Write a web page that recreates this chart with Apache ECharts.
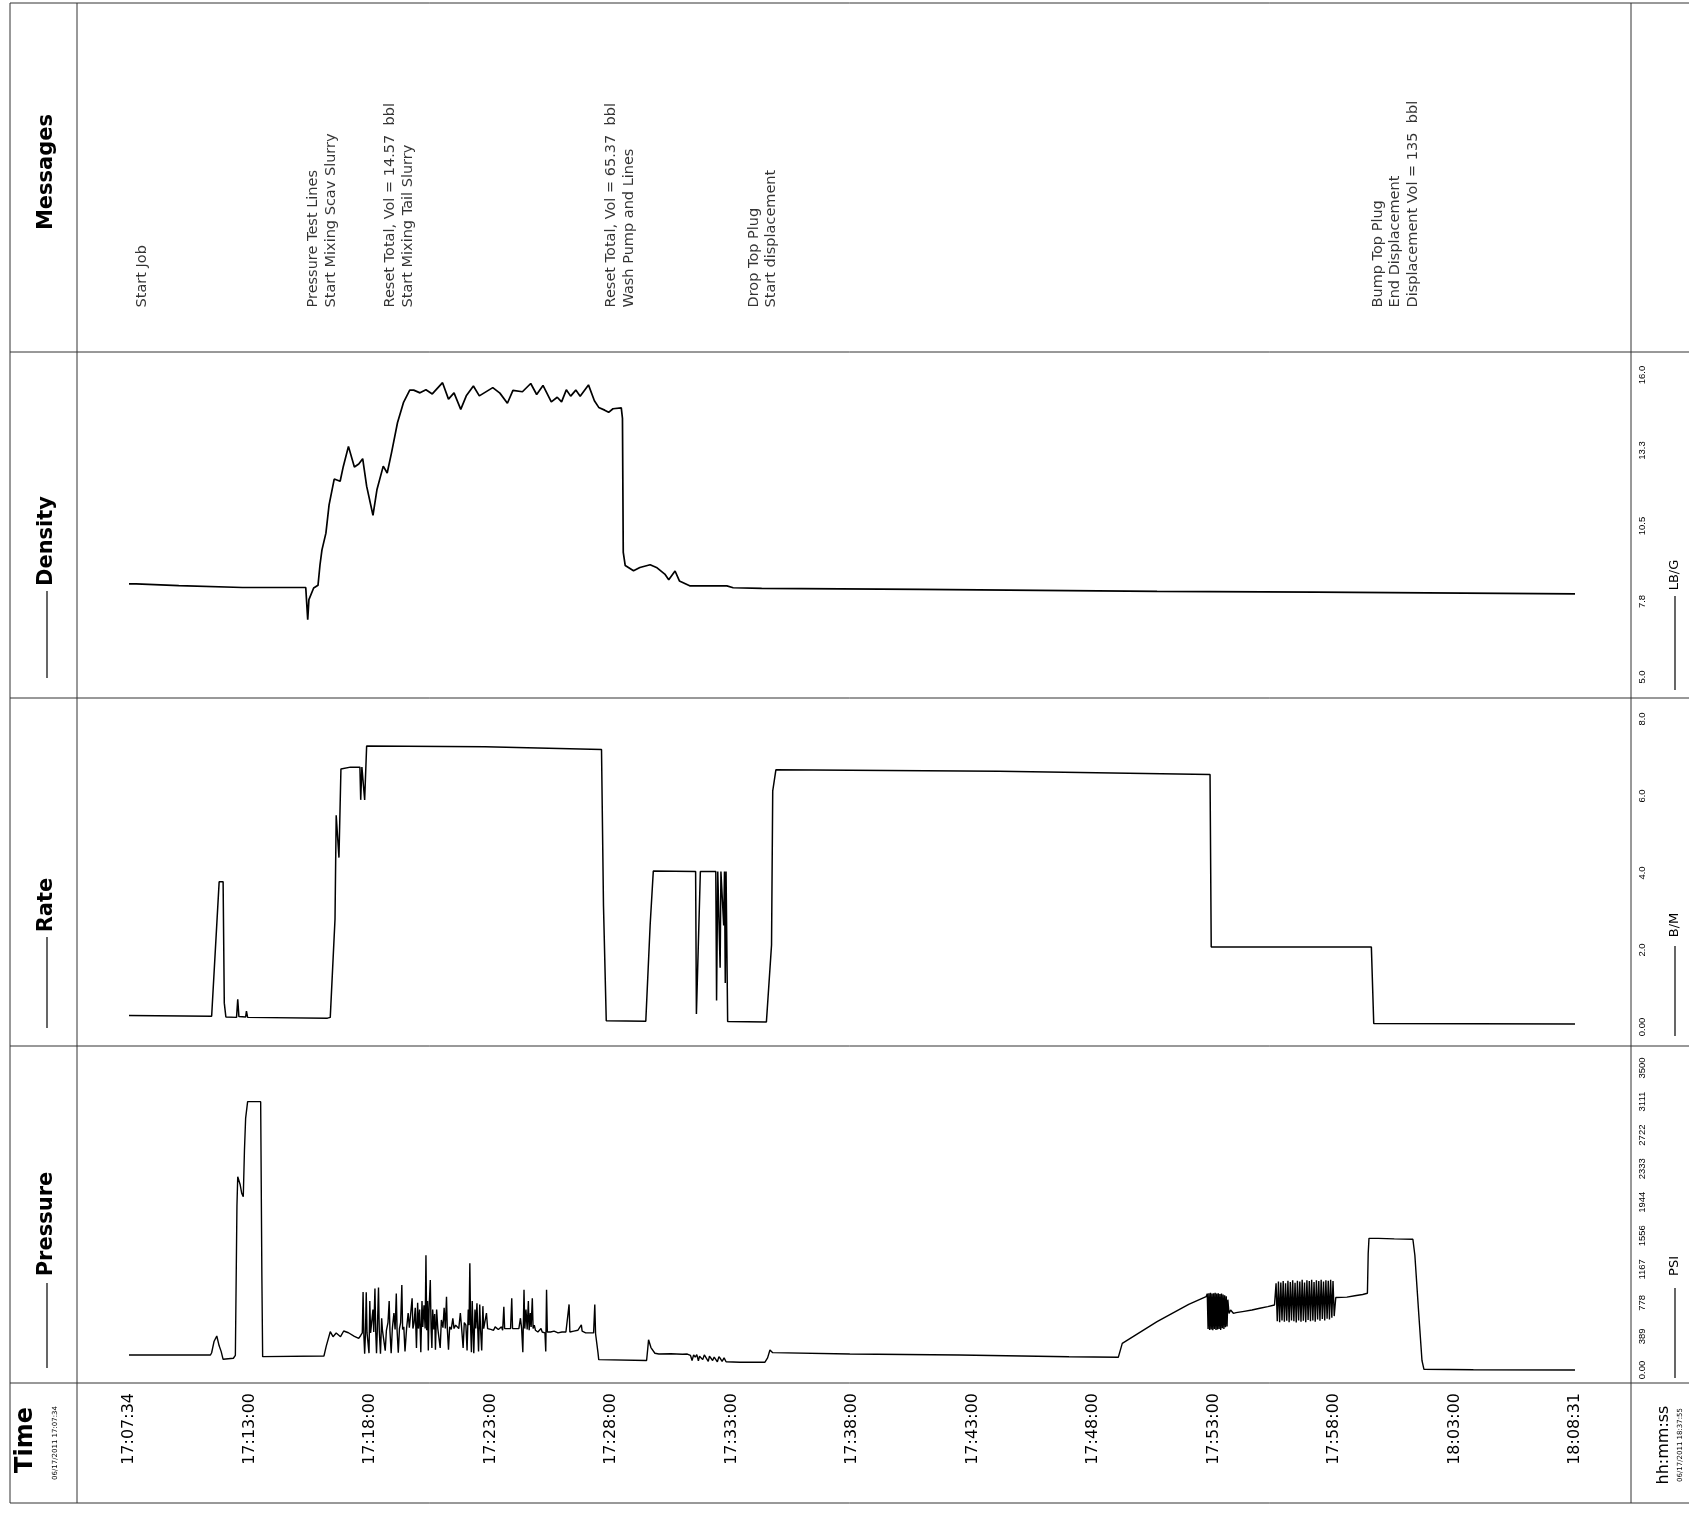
<!DOCTYPE html>
<html><head><meta charset="utf-8">
<script src="https://cdn.jsdelivr.net/npm/echarts@6/dist/echarts.min.js"></script>
<style>html,body{margin:0;padding:0;background:#fff}#c{width:1689px;height:1516px}</style>
</head><body><div id="c"></div>
<script>
// ---------------- data ----------------
const timeLabels = ['17:07:34','17:13:00','17:18:00','17:23:00','17:28:00','17:33:00','17:38:00','17:43:00','17:48:00','17:53:00','17:58:00','18:03:00','18:08:31'];
const spanSeconds = 3657; // seconds drawn between first and last time label
const pressureTickLabels = ['0.00','389','778','1167','1556','1944','2333','2722','3111','3500'];
const pressureTickValues = [0,388.9,777.8,1166.7,1555.6,1944.4,2333.3,2722.2,3111.1,3500];
const rateTickLabels = ['0.00','2.0','4.0','6.0','8.0'];
const rateTickValues = [0,2,4,6,8];
const densityTickLabels = ['5.0','7.8','10.5','13.3','16.0'];
const densityTickValues = [5,7.75,10.5,13.25,16];

// [seconds since 17:07:34, value]
const pressure = [
[0,174],[206,174],[209,200],[215,330],[222,394],[228,280],[233,216],[238,124],[264,136],[269,170],[273,1900],[275,2240],[277,2260],[281,2150],[285,2050],[289,2009],[292,2550],[295,2920],[300,3110],[333,3110],[336,1100],[338,155],[342,162],[493,162],[499,280],[509,444],[516,386],[524,429],[535,386],[543,452],[555,432],[570,390],[581,367],
[586,400],[590,430],[592,905],[594,400],[596,190],[598,420],[600,900],[602,430],[605,440],[607,195],[609,800],[611,430],[614,450],[617,700],[619,440],[622,945],[624,440],[626,195],[628,460],[631,955],[633,450],[636,190],[639,600],[641,460],[645,450],[648,225],[651,460],[655,550],[658,800],[660,450],[663,195],[666,480],[670,660],[673,470],[676,885],[678,460],[681,200],[684,480],[687,550],[690,985],[692,470],[695,500],[698,215],[702,480],[706,660],[709,490],[713,500],[716,830],[718,480],[721,550],[724,720],[727,255],[730,780],[732,480],[735,700],[738,205],[741,800],[743,500],[746,750],[749,480],[751,1330],[753,460],[755,800],[757,225],[759,720],[762,1043],[764,480],[766,255],[768,700],[771,470],[773,650],[775,235],[778,700],[781,480],[784,500],[787,255],[790,580],[794,490],[797,720],[800,480],[803,850],[805,480],[808,235],[811,500],[815,470],[819,600],[822,480],[826,520],[830,500],[834,480],[838,660],[841,500],[845,255],[848,550],[852,520],[855,225],[858,700],[860,520],[862,1237],[864,500],[866,205],[868,800],[870,480],[872,195],[875,700],[877,480],[880,773],[882,480],[884,215],[887,760],[889,480],[892,225],[895,740],[897,480],[900,480],[904,660],[907,480],[911,500],[915,470],[919,480],[922,460],[926,500],[930,480],[934,470],[938,480],[942,500],[945,460],[948,734],[950,480],[954,470],[958,480],[962,500],[965,480],[968,830],[970,480],[974,470],[978,480],[982,460],[986,480],[990,600],[993,480],[996,205],[999,930],[1001,480],[1004,700],[1007,470],[1010,800],[1012,460],[1015,660],[1017,500],[1020,830],[1022,480],[1025,520],[1028,460],[1031,480],[1034,440],[1038,460],[1042,480],[1045,440],[1049,460],[1052,430],[1054,215],[1056,930],[1058,440],[1062,430],[1066,440],[1070,430],[1075,450],[1080,440],[1085,430],[1090,450],[1095,440],[1100,430],[1105,440],[1110,450],[1113,760],[1115,440],[1120,430],[1125,450],[1130,440],[1135,460],[1140,480],[1144,522],[1146,450],[1150,440],[1155,430],[1160,440],[1165,430],[1170,420],[1175,430],[1178,760],[1180,420],[1183,405],[1186,205],[1188,120],
[1190,110],[1309,110],[1312,250],[1314,350],[1320,260],[1330,194],[1340,185],[1370,188],[1400,182],[1412,185],[1420,170],[1424,110],[1428,175],[1432,150],[1436,178],[1440,105],[1443,160],[1447,180],[1451,120],[1455,175],[1460,165],[1465,100],[1468,160],[1472,178],[1476,110],[1480,150],[1484,170],[1488,95],[1492,155],[1496,130],[1500,100],[1505,140],[1510,95],[1515,85],[1545,89],[1608,89],[1615,140],[1621,232],[1623,251],[1628,201],[1823,185],[2100,174],[2377,154],[2502,147],[2507,160],[2512,309],[2600,560],[2680,760],[2724,850],
[2727,885],[2729,475],[2731,890],[2733,465],[2735,895],[2737,470],[2739,885],[2741,460],[2743,890],[2745,475],[2747,895],[2749,465],[2751,885],[2753,470],[2755,890],[2757,475],[2759,880],[2761,465],[2763,885],[2765,485],[2767,875],[2769,475],[2771,865],[2773,495],[2775,855],[2777,505],[2779,815],[2782,655],[2786,695],[2793,657],[2800,665],[2820,680],[2840,695],[2860,715],[2880,735],[2897,753],
[2901,1005],[2904,565],[2907,1025],[2910,555],[2913,1015],[2916,575],[2919,1030],[2922,560],[2925,1005],[2928,570],[2931,1035],[2934,555],[2937,1020],[2940,575],[2943,1040],[2946,565],[2949,1010],[2952,550],[2955,1035],[2958,575],[2961,1025],[2964,560],[2967,1045],[2970,570],[2973,1015],[2976,555],[2979,1040],[2982,580],[2985,1030],[2988,565],[2991,1045],[2994,575],[2997,1020],[3000,560],[3003,1040],[3006,585],[3009,1030],[3012,570],[3015,1045],[3018,590],[3021,1025],[3024,575],[3027,1040],[3030,595],[3033,1035],[3036,585],[3039,1045],[3042,605],[3045,1030],[3048,625],[3052,840],[3056,831],[3080,845],[3100,860],[3120,875],[3132,889],[3134,1350],[3136,1526],[3160,1525],[3200,1520],[3247,1515],[3252,1330],[3262,640],[3270,110],[3275,8],[3400,3],[3657,0]
];

const rate = [
[0,0.3],[209,0.28],[228,3.77],[238,3.77],[241,0.62],[245,0.26],[272,0.25],[275,0.72],[278,0.27],[295,0.26],[297,0.41],[300,0.25],[502,0.23],[509,0.25],[521,2.8],[524,5.5],[528,5.5],[531,4.4],[536,6.7],[560,6.75],[584,6.75],[586,5.9],[589,6.75],[593,6.75],[596,5.9],[601,7.3],[900,7.28],[1195,7.21],[1200,3.15],[1207,0.16],[1307,0.15],[1318,2.65],[1322,2.65],[1326,4.05],[1433,4.04],[1435,0.34],[1440,0.34],[1445,4.04],[1484,4.04],[1486,0.69],[1489,4.04],[1493,4.04],[1495,1.54],[1497,4.04],[1502,4.04],[1504,2.64],[1506,4.04],[1508,1.14],[1510,4.04],[1514,0.14],[1612,0.13],[1625,2.13],[1628,6.13],[1636,6.68],[2200,6.64],[2734,6.56],[2737,2.08],[3142,2.08],[3148,0.09],[3657,0.08]
];

const density = [
[0,8.39],[18,8.39],[126,8.33],[287,8.26],[447,8.26],[450,8.19],[452,7.09],[455,7.82],[467,8.24],[478,8.34],[483,9.08],[488,9.63],[498,10.24],[506,11.27],[519,12.21],[534,12.13],[542,12.67],[555,13.4],[570,12.65],[581,12.76],[591,12.95],[601,11.95],[617,10.89],[627,11.82],[643,12.68],[653,12.43],[664,13.17],[679,14.26],[694,14.99],[710,15.45],[720,15.45],[736,15.35],[751,15.46],[767,15.31],[793,15.72],[808,15.12],[822,15.35],[839,14.75],[853,15.24],[871,15.6],[886,15.24],[920,15.54],[938,15.34],[957,14.97],[971,15.44],[995,15.39],[1016,15.69],[1031,15.29],[1047,15.62],[1068,15.02],[1083,15.19],[1094,15.02],[1106,15.46],[1117,15.23],[1130,15.45],[1141,15.23],[1162,15.64],[1177,15.06],[1188,14.82],[1203,14.72],[1213,14.64],[1224,14.77],[1245,14.8],[1248,14.42],[1250,9.54],[1255,9.06],[1276,8.87],[1292,8.99],[1318,9.09],[1334,8.99],[1355,8.75],[1365,8.54],[1381,8.86],[1392,8.5],[1418,8.32],[1512,8.32],[1528,8.25],[1600,8.23],[2000,8.19],[2600,8.12],[3000,8.09],[3657,8.03]
];

const messageTimes = [13, 446, 640, 1199, 1560, 3138];
const messageTexts = [
  'Start Job',
  'Pressure Test Lines\nStart Mixing Scav Slurry',
  'Reset Total, Vol = 14.57  bbl\nStart Mixing Tail Slurry',
  'Reset Total, Vol = 65.37  bbl\nWash Pump and Lines',
  'Drop Top Plug\nStart displacement',
  'Bump Top Plug\nEnd Displacement\nDisplacement Vol = 135  bbl'
];

// ---------------- layout ----------------
const W = 1689;
const PLOT_L = 77, PLOT_R = 1631;          // frame of the plot area
const DATA_L = 129, DATA_R = 1575;         // pixel of first / last time label
const pxPerSec = (DATA_R - DATA_L) / spanSeconds;
const XMIN = -(DATA_L - PLOT_L) / pxPerSec;
const XMAX = spanSeconds + (PLOT_R - DATA_R) / pxPerSec;

const panels = {
  density:  {top: 352,  bottom: 698,  v0: 5, y0: 677,  v1: 16,   y1: 375},
  rate:     {top: 698,  bottom: 1046, v0: 0, y0: 1027, v1: 8,    y1: 719},
  pressure: {top: 1046, bottom: 1383, v0: 0, y0: 1370, v1: 3500, y1: 1068}
};
function yRange(p) {
  const k = (p.y0 - p.y1) / (p.v1 - p.v0);
  return {min: p.v0 - (p.bottom - p.y0) / k, max: p.v1 + (p.y1 - p.top) / k};
}
function nearestLabel(vals, labs) {
  return function (v) {
    let bi = 0, bd = Infinity;
    vals.forEach((x, i) => { const d = Math.abs(x - v); if (d < bd) { bd = d; bi = i; } });
    return labs[bi];
  };
}
const FONT = '"DejaVu Sans", Verdana, sans-serif';
const timeTickValues = timeLabels.map((_, i) => i * spanSeconds / (timeLabels.length - 1));

function grid(p) { return {left: PLOT_L, width: PLOT_R - PLOT_L, top: p.top, height: p.bottom - p.top, show: false}; }
function yAxis(idx, p, vals, labs) {
  const r = yRange(p);
  return {
    type: 'value', gridIndex: idx, position: 'right', min: r.min, max: r.max,
    axisLine: {show: false}, axisTick: {show: false}, splitLine: {show: false},
    axisLabel: {
      customValues: vals, formatter: nearestLabel(vals, labs), rotate: 90, margin: 6,
      fontSize: 9.5, fontFamily: '"Liberation Sans", Arial, sans-serif', color: '#000'
    }
  };
}
function xAxis(idx, showLabels) {
  return {
    type: 'value', gridIndex: idx, min: XMIN, max: XMAX,
    axisLine: {show: false}, axisTick: {show: false}, splitLine: {show: false},
    axisLabel: showLabels ? {
      customValues: timeTickValues, formatter: nearestLabel(timeTickValues, timeLabels),
      rotate: 90, margin: 10, fontSize: 16, fontFamily: FONT, color: '#000'
    } : {show: false}
  };
}
const lineSeries = (name, idx, data, w) => ({
  name, type: 'line', xAxisIndex: idx, yAxisIndex: idx, data, showSymbol: false,
  symbol: 'none', lineStyle: {color: '#000', width: w}, silent: true, animation: false
});

// frame + side labels
const g = [];
const LINE = {stroke: '#333', lineWidth: 1};
function hline(y, x1, x2) { g.push({type: 'line', shape: {x1, y1: y, x2, y2: y}, style: LINE, silent: true}); }
function vline(x, y1, y2) { g.push({type: 'line', shape: {x1: x, y1, x2: x, y2}, style: LINE, silent: true}); }
function rtext(x, y, text, font) {
  g.push({type: 'text', x, y, rotation: Math.PI / 2, silent: true,
    style: {text, font, fill: '#000', align: 'center', verticalAlign: 'middle', textAlign: 'center', textVerticalAlign: 'middle'}});
}
function sample(x, y1, y2) { g.push({type: 'line', shape: {x1: x, y1, x2: x, y2}, style: {stroke: '#000', lineWidth: 1.2}, silent: true}); }
hline(3, 10, W); hline(1503, 10, W);
[352, 698, 1046, 1383].forEach(y => hline(y, 10, W));
vline(10, 3, 1503); vline(PLOT_L, 3, 1503); vline(PLOT_R, 3, 1503);
const BOLD = 'bold 21px "DejaVu Sans", Verdana, sans-serif';
rtext(47, 172, 'Messages', BOLD);
rtext(47, 541, 'Density', BOLD); sample(47, 591, 678);
rtext(47, 905, 'Rate', BOLD); sample(47, 937, 1028);
rtext(47, 1224, 'Pressure', BOLD); sample(47, 1283, 1368);
rtext(26, 1440, 'Time', 'bold 24px "DejaVu Sans", Verdana, sans-serif');
rtext(55, 1443, '06/17/2011 17:07:34', '7px "DejaVu Sans", sans-serif');
const UNIT = '13px "DejaVu Sans", Verdana, sans-serif';
rtext(1675, 575, 'LB/G', UNIT); sample(1675, 596, 690);
rtext(1675, 925, 'B/M', UNIT); sample(1675, 946, 1036);
rtext(1675, 1266, 'PSI', UNIT); sample(1675, 1288, 1378);
rtext(1664, 1445, 'hh:mm:ss', '16px "DejaVu Sans", Verdana, sans-serif');
rtext(1680, 1445, '06/17/2011 18:37:55', '7px "DejaVu Sans", sans-serif');

const chart = echarts.init(document.getElementById('c'));
chart.setOption({
  animation: false,
  backgroundColor: '#fff',
  grid: [grid(panels.density), grid(panels.rate), grid(panels.pressure),
         {left: PLOT_L, width: PLOT_R - PLOT_L, top: 20, height: 288, show: false}],
  xAxis: [xAxis(0, false), xAxis(1, false), xAxis(2, true), xAxis(3, false)],
  yAxis: [
    yAxis(0, panels.density, densityTickValues, densityTickLabels),
    yAxis(1, panels.rate, rateTickValues, rateTickLabels),
    yAxis(2, panels.pressure, pressureTickValues, pressureTickLabels),
    {type: 'value', gridIndex: 3, min: 0, max: 1, show: false}
  ],
  series: [
    lineSeries('Density', 0, density, 1.7),
    lineSeries('Rate', 1, rate, 1.5),
    lineSeries('Pressure', 2, pressure, 1.4),
    {
      name: 'Messages', type: 'scatter', xAxisIndex: 3, yAxisIndex: 3, symbolSize: 1,
      itemStyle: {color: 'rgba(0,0,0,0)'}, silent: true,
      data: messageTimes.map((t, i) => ({value: [t, 0], name: messageTexts[i]})),
      label: {
        show: true, formatter: '{b}', position: [0, 0], rotate: 90, align: 'left', verticalAlign: 'top',
        fontFamily: FONT, fontSize: 14.5, lineHeight: 17.5, color: '#000'
      }
    }
  ],
  graphic: g
});
</script></body></html>
